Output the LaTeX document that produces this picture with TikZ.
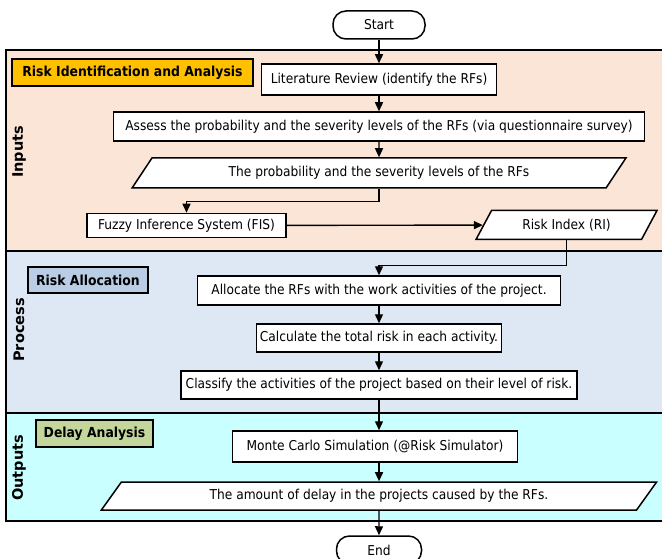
\documentclass[tikz,border=0pt]{standalone}
\usepackage{fontspec}
\setmainfont{DejaVu Sans Condensed}
\newfontfamily\lanefont{DejaVu Sans}
\usetikzlibrary{shapes.geometric,arrows.meta}
\definecolor{inputsbg}{HTML}{FBE5D6}
\definecolor{processbg}{HTML}{DEE8F4}
\definecolor{outputsbg}{HTML}{C9FFFF}
\definecolor{headorange}{HTML}{FFC000}
\definecolor{headblue}{HTML}{B9CDE5}
\definecolor{headgreen}{HTML}{C3D69B}
\tikzset{stepbox/.style={draw, line width=1.5pt, fill=white, inner sep=0pt, minimum height=28pt, font=\fontsize{13.6}{15}\selectfont},
         databox/.style={stepbox, trapezium, trapezium left angle=45, trapezium right angle=135, trapezium stretches=true},
         termbox/.style={draw, line width=1.5pt, fill=white, rounded corners=13pt, minimum height=28pt, font=\fontsize{13.6}{15}\selectfont},
         headbox/.style={draw, line width=1.5pt, inner sep=0pt, minimum height=27pt, font=\fontsize{13.8}{15}\selectfont\bfseries},
         lanelabel/.style={rotate=90, font=\fontsize{14.5}{16}\selectfont\lanefont\bfseries},
         flow/.style={line width=1.4pt, -{Triangle[width=8pt,length=9pt]}}}

\begin{document}
\begin{tikzpicture}[x=1pt,y=-1pt]
                    \useasboundingbox (0,0) rectangle (662,559);
                    \draw[line width=1.8pt, fill=inputsbg] (6,50) rectangle (670,251);
                    \draw[line width=1.8pt, fill=processbg] (6,251) rectangle (670,413);
                    \draw[line width=1.8pt, fill=outputsbg] (6,413) rectangle (670,521);
                    \node[lanelabel] (inputs) at (19,152) {Inputs};
                    \node[lanelabel] (process) at (19,330) {Process};
                    \node[lanelabel] (outputs) at (19,468) {Outputs};

                    \node[headbox, fill=headorange, minimum width=241pt] (riskid) at (132.5,72.5) {Risk Identification and Analysis};
                    \node[headbox, fill=headblue, minimum width=120pt, minimum height=26pt] (riskalloc) at (88,280) {Risk Allocation};
                    \node[headbox, fill=headgreen, minimum width=117pt] (delay) at (94.5,433.5) {Delay Analysis};

                    \node[termbox, minimum width=92pt] (start) at (379,25) {Start};
                    \node[stepbox, minimum width=235pt, minimum height=31pt] (litrev) at (379,79.5) {Literature Review (identify the RFs)};
                    \node[stepbox, minimum width=531pt, minimum height=29pt] (assess) at (379,126.5) {Assess the probability and the severity levels of the RFs (via questionnaire survey)};
                    \node[databox, minimum width=495pt, minimum height=30pt] (probsev) at (379,173) {The probability and the severity levels of the RFs};
                    \node[stepbox, minimum width=199pt, minimum height=24pt] (fis) at (186.5,225.5) {Fuzzy Inference System (FIS)};
                    \node[databox, trapezium left angle=53, trapezium right angle=127, minimum width=181pt, minimum height=29pt] (ri) at (566.5,225) {Risk Index (RI)};
                    \node[stepbox, minimum width=363pt, minimum height=29pt] (alloc) at (379,290.5) {Allocate the RFs with the work activities of the project.};
                    \node[stepbox, minimum width=245pt] (calc) at (379,338) {Calculate the total risk in each activity.};
                    \node[stepbox, minimum width=396pt] (classify) at (379,385) {Classify the activities of the project based on their level of risk.};
                    \node[stepbox, minimum width=285pt, minimum height=31pt] (montecarlo) at (375,446.5) {Monte Carlo Simulation (@Risk Simulator)};
                    \node[databox, minimum width=557pt] (amount) at (379,496) {The amount of delay in the projects caused by the RFs.};
                    \node[termbox, minimum width=85pt] (end) at (379,550) {End};

                    \draw[flow] (start) -- (litrev);
                    \draw[flow] (litrev) -- (assess);
                    \draw[flow] (assess) -- (probsev);
                    \draw[flow] (probsev.south) -- ++(0,13) -| (fis.north);
                    \draw[flow] (fis) -- (ri);
                    \draw[flow] (ri.south) -- ++(0,25) -| (alloc.north);
                    \draw[flow] (alloc) -- (calc);
                    \draw[flow] (calc) -- (classify);
                    \draw[flow] (classify.south) -- (classify.south |- montecarlo.north);
                    \draw[flow] (amount.north |- montecarlo.south) -- (amount.north);
                    \draw[flow] (amount) -- (end);
                \end{tikzpicture}
\end{document}
